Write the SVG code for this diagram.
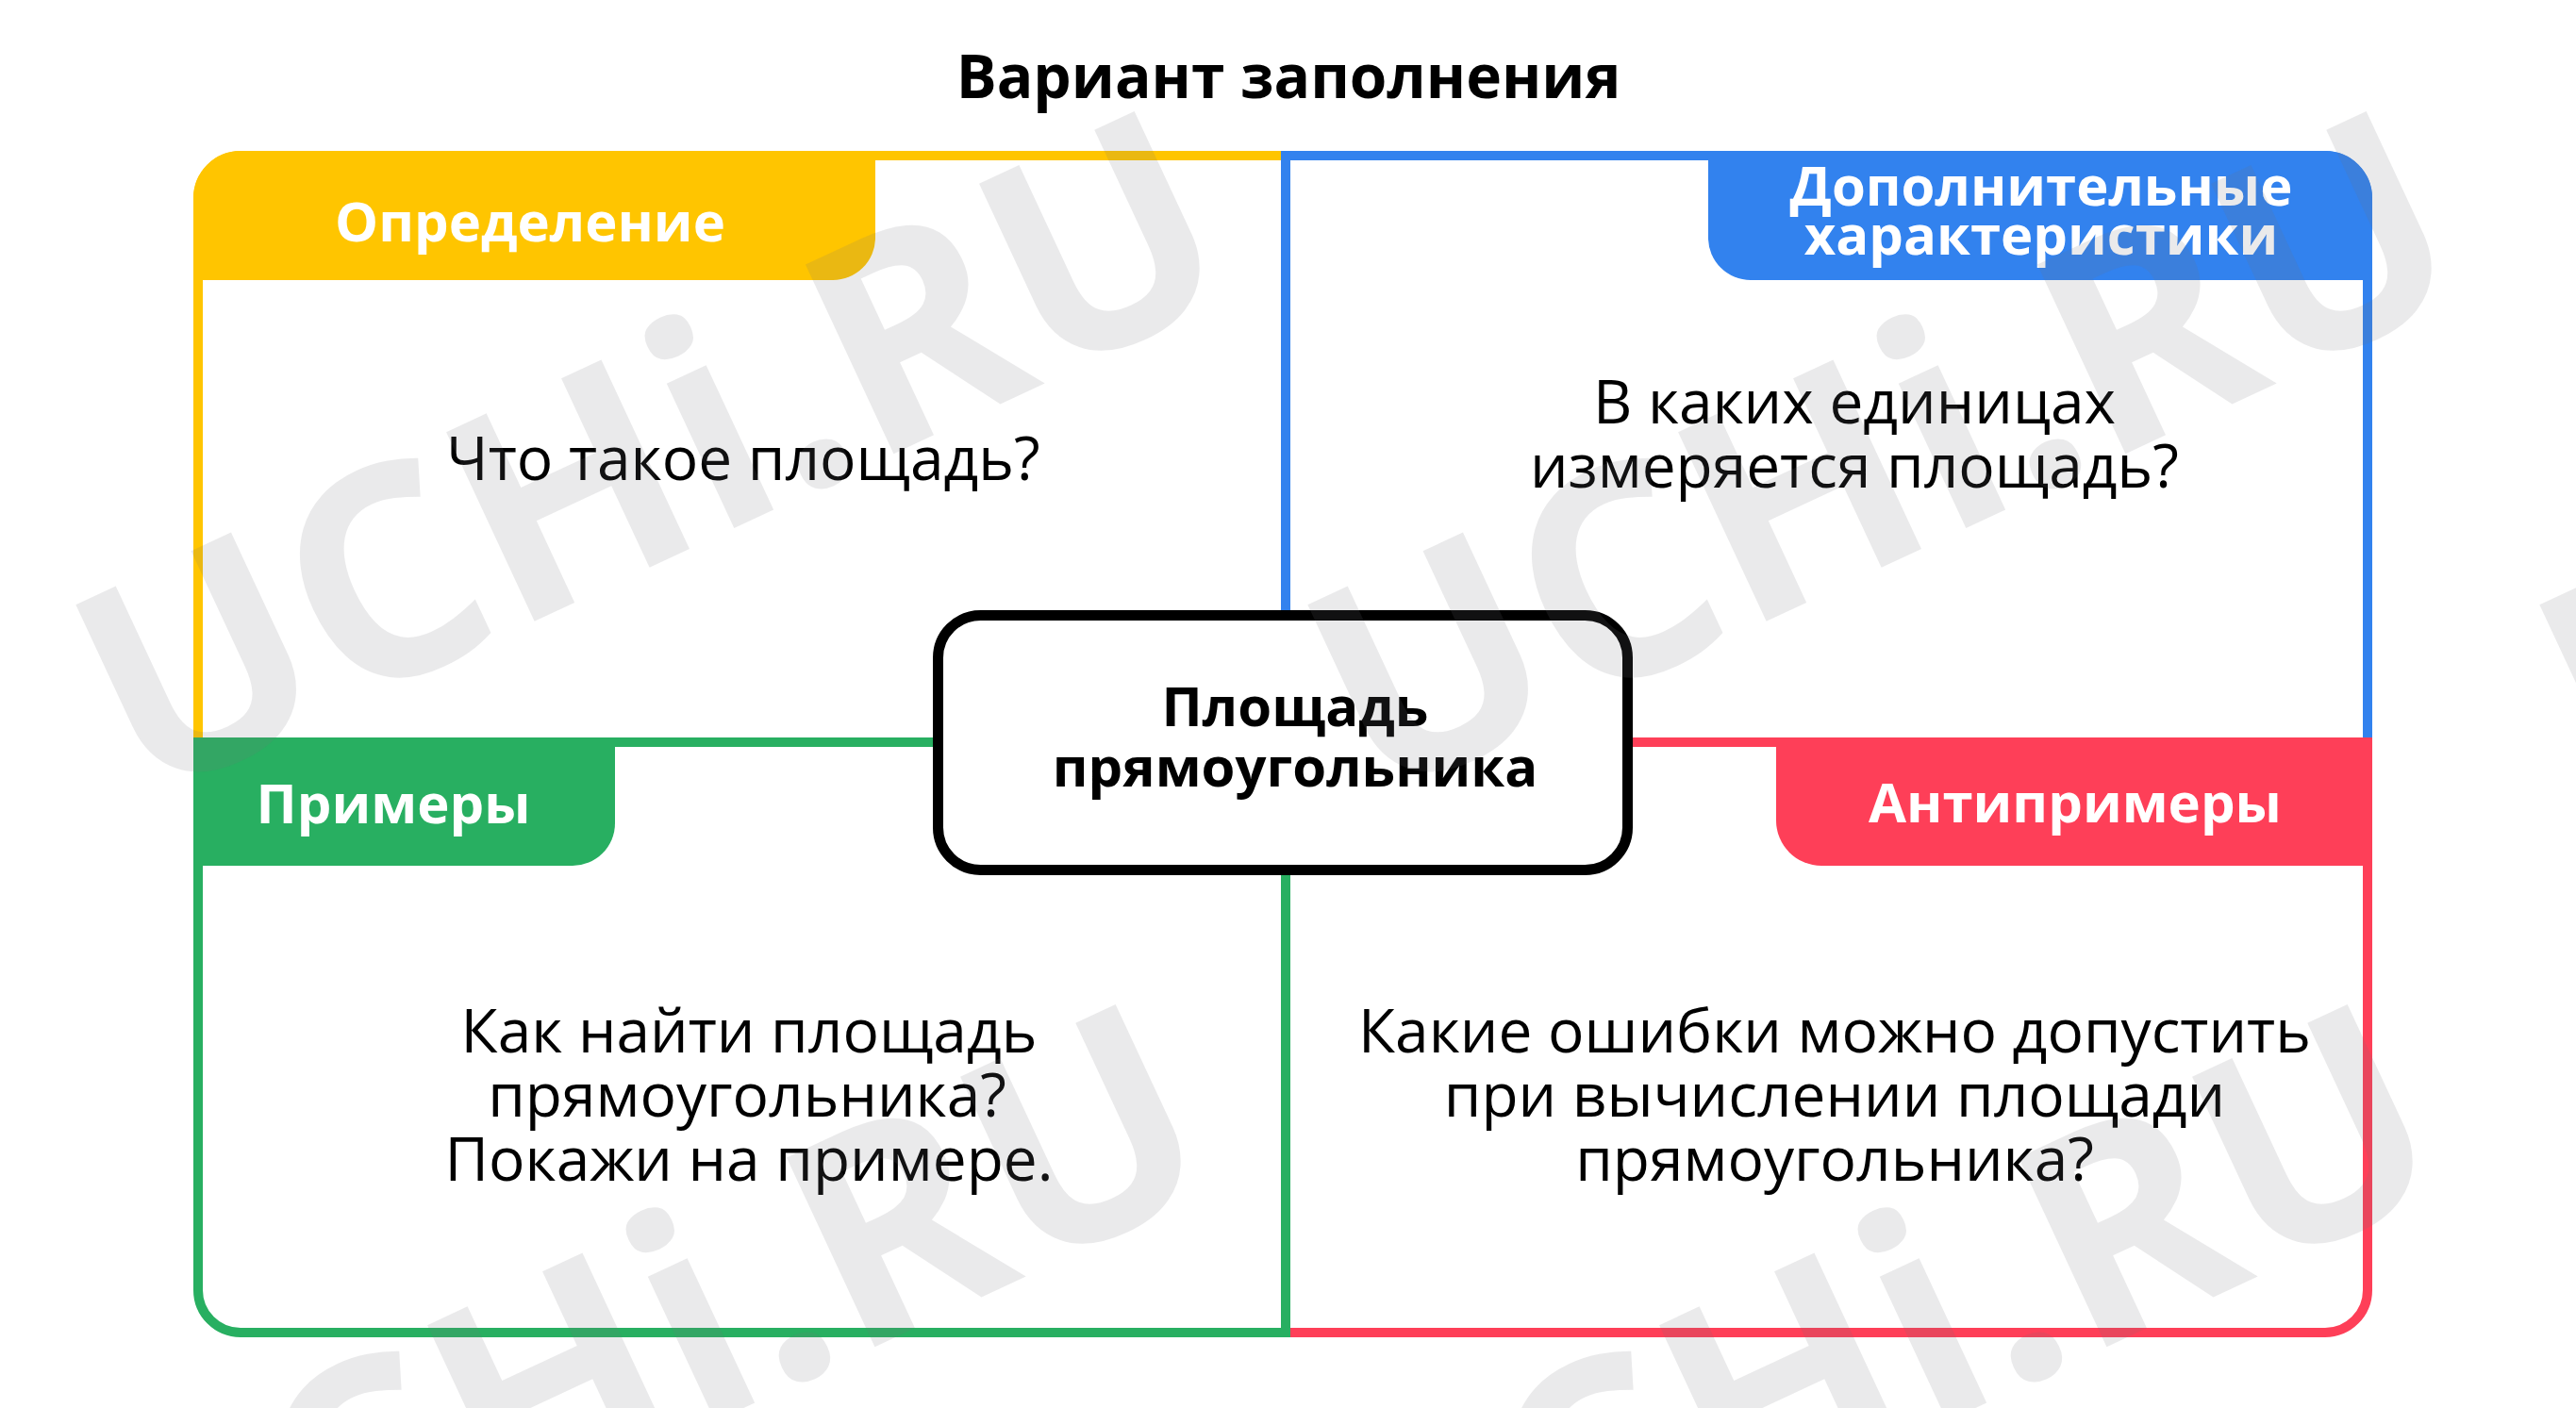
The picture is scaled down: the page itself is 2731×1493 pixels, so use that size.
<svg xmlns="http://www.w3.org/2000/svg" width="2731" height="1493" viewBox="0 0 2731 1493">
<style>
.q{fill:none;stroke-width:10;stroke-linejoin:miter}
.lab{font-family:"Open Sans","Noto Sans","Liberation Sans",sans-serif;font-weight:700;font-size:58px;fill:#fff;text-anchor:middle}
.body{font-family:"Open Sans","Noto Sans","Liberation Sans",sans-serif;font-weight:400;font-size:64px;fill:#000;text-anchor:middle}
.ctr{font-family:"Open Sans","Noto Sans","Liberation Sans",sans-serif;font-weight:700;font-size:58px;fill:#000;text-anchor:middle}
.title{font-family:"Open Sans","Noto Sans","Liberation Sans",sans-serif;font-weight:700;font-size:64px;fill:#000;text-anchor:middle}
.wm{font-family:"Open Sans","Noto Sans","Liberation Sans",sans-serif;font-weight:700;font-size:310px;fill:#71717a;fill-opacity:0.15}
</style>
<rect width="2731" height="1493" fill="#fff"/>
<text class="title" x="1366" y="104">Вариант заполнения</text>
<g id="connectors">
<path class="q" stroke="#FFC500" d="M1363 165H255A45 45 0 0 0 210 210V787H1363Z"/>
<path class="q" stroke="#3282EE" d="M1363 165H2465A45 45 0 0 1 2510 210V787H1363Z"/>
<path class="q" stroke="#FE3F58" d="M1363 787H2510V1368A45 45 0 0 1 2465 1413H1363Z"/>
<path class="q" stroke="#28AF61" d="M210 787H1363V1413H255A45 45 0 0 1 210 1368Z"/>
</g>
<g id="definition">
<path fill="#FFC500" d="M255 160H928V252A45 45 0 0 1 883 297H205V210A50 50 0 0 1 255 160Z"/>
<text class="lab" x="562" y="256">Определение</text>
<text class="body" x="788" y="509">Что такое площадь?</text>
</g>
<g id="extra">
<path fill="#3282EE" d="M1811 160H2465A50 50 0 0 1 2515 210V297H1856A45 45 0 0 1 1811 252Z"/>
<text class="lab" x="2164" y="218">Дополнительные</text>
<text class="lab" x="2164" y="270">характеристики</text>
<text class="body" x="1966" y="449">В каких единицах</text>
<text class="body" x="1966" y="517">измеряется площадь?</text>
</g>
<g id="examples">
<path fill="#28AF61" d="M205 782H652V873A45 45 0 0 1 607 918H205Z"/>
<text class="lab" x="417" y="873">Примеры</text>
<text class="body" x="794" y="1116">Как найти площадь</text>
<text class="body" x="792" y="1184">прямоугольника?</text>
<text class="body" x="794" y="1252">Покажи на примере.</text>
</g>
<g id="antiexamples">
<path fill="#FE3F58" d="M1883 782H2515V918H1931A48 48 0 0 1 1883 870Z"/>
<text class="lab" x="2200" y="872">Антипримеры</text>
<text class="body" x="1945" y="1116">Какие ошибки можно допустить</text>
<text class="body" x="1945" y="1184">при вычислении площади</text>
<text class="body" x="1945" y="1252">прямоугольника?</text>
</g>
<g id="center">
<rect x="994.5" y="652.5" width="731" height="270" rx="45" fill="#fff" stroke="#000" stroke-width="11"/>
<text class="ctr" x="1373" y="770">Площадь</text>
<text class="ctr" x="1373" y="834">прямоугольника</text>
</g>
<g id="watermark">
<text class="wm" transform="translate(150 853) rotate(-25)">UCHi.RU</text>
<text class="wm" transform="translate(1456 853) rotate(-25)">UCHi.RU</text>
<text class="wm" transform="translate(2762 853) rotate(-25)">UCHi.RU</text>
<text class="wm" transform="translate(130 1800) rotate(-25)">UCHi.RU</text>
<text class="wm" transform="translate(1436 1800) rotate(-25)">UCHi.RU</text>
</g>
</svg>
